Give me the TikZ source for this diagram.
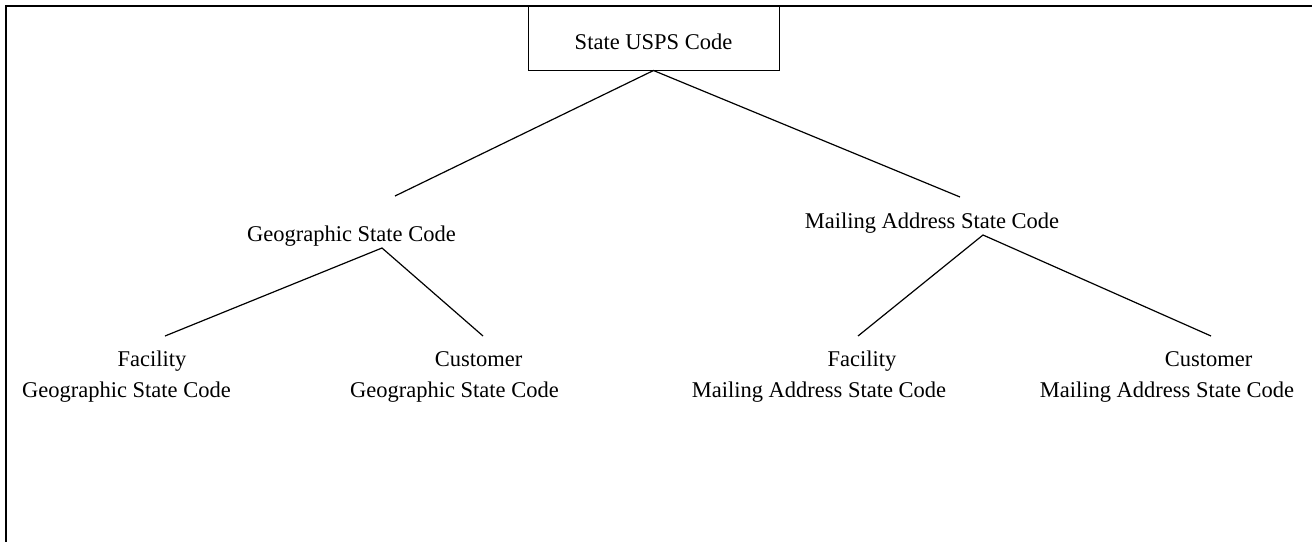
\documentclass[tikz,border=0pt]{standalone}
\usepackage{fontspec}
\setmainfont{Liberation Serif}
\begin{document}
\begin{tikzpicture}[x=0.5pt,y=-0.5pt,
  lbl/.style={inner sep=0pt,anchor=base,font=\fontsize{11.25}{13.5}\selectfont},
  topbox/.style={draw,line width=0.5pt,inner sep=0pt,minimum width=125.5pt,minimum height=32pt,
    text height=11pt,text depth=0pt,font=\fontsize{11.25}{13.5}\selectfont},
  conn/.style={line width=0.6pt},
  frame/.style={line width=1pt}]
\useasboundingbox (0,0) rectangle (1312,541);
% frame (only top and left edges visible)
\coordinate (fTL) at (6,6);
\coordinate (fTR) at (1315,6);
\coordinate (fBL) at (6,545);
\draw[frame] (fBL) -- (fTL) -- (fTR);
% root
\node[topbox] (root) at (653.5,38) {State USPS Code};
% middle level
\node[lbl] (geo) at (351.4,241.7) {Geographic State Code};
\node[lbl] (mail) at (932,228) {Mailing Address State Code};
% leaves
\node[lbl] (l1a) at (152,366.7) {Facility};
\node[lbl] (l1b) at (126.4,397.3) {Geographic State Code};
\node[lbl] (l2a) at (478.5,366.7) {Customer};
\node[lbl] (l2b) at (454.4,397.3) {Geographic State Code};
\node[lbl] (l3a) at (862,366.7) {Facility};
\node[lbl] (l3b) at (819,397.3) {Mailing Address State Code};
\node[lbl] (l4a) at (1208.5,366.7) {Customer};
\node[lbl] (l4b) at (1167,397.3) {Mailing Address State Code};
% connector end points
\coordinate (rootL) at (395,196);
\coordinate (rootR) at (960,197);
\coordinate (geoApex) at (382,248);
\coordinate (geoL) at (165,336);
\coordinate (geoR) at (483,336);
\coordinate (mailApex) at (983,235);
\coordinate (mailL) at (858,336);
\coordinate (mailR) at (1211,336);
% connectors
\draw[conn] (rootL) -- (root.south) -- (rootR);
\draw[conn] (geoL) -- (geoApex) -- (geoR);
\draw[conn] (mailL) -- (mailApex) -- (mailR);
\end{tikzpicture}
\end{document}
